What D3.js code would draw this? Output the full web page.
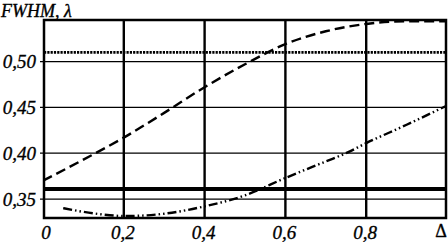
<!DOCTYPE html>
<html><head><meta charset="utf-8">
<script src="https://cdn.jsdelivr.net/npm/d3@7"></script>
<style>body{margin:0;background:#fff}svg{display:block}text{font-family:"Liberation Serif","DejaVu Serif",serif;font-style:italic;fill:#000;stroke:#000;stroke-width:0.35px}</style>
</head><body><svg id="c" width="448" height="242"></svg>
<script>
const xTicks = [0, 0.2, 0.4, 0.6, 0.8];
const xTickLabels = ["0", "0,2", "0,4", "0,6", "0,8"];
const yTicks = [0.35, 0.40, 0.45, 0.50];
const yTickLabels = ["0,35", "0,40", "0,45", "0,50"];
const dashedX = [0, 0.1, 0.2, 0.3, 0.4, 0.5, 0.6, 0.7, 0.8, 0.9, 1.0];
const dashedY = [0.370, 0.393, 0.417, 0.444, 0.472, 0.497, 0.519, 0.533, 0.541, 0.544, 0.544];
const dashDotX = [0.05, 0.1, 0.15, 0.2, 0.25, 0.3, 0.4, 0.5, 0.6, 0.7, 0.75, 0.8, 0.9, 1.0];
const dashDotY = [0.340, 0.336, 0.333, 0.3315, 0.332, 0.334, 0.342, 0.354, 0.373, 0.391, 0.400, 0.411, 0.431, 0.452];
const dottedLevel = 0.510;
const solidLevel = 0.361;
const yTitle = "FWHM, λ";
const xTitle = "Δ";

const svg = d3.select("#c");
const L = 44, R = 446, T = 20, B = 218;
const x = d3.scaleLinear().domain([0, 1]).range([43, 447]);
const y = d3.scaleLinear().domain([0.3293, 0.5453]).range([B, T]);

svg.append("defs").append("clipPath").attr("id", "clip")
  .append("rect").attr("x", L).attr("y", T).attr("width", R - L).attr("height", B - T);

svg.append("g").selectAll("line").data(yTicks).join("line")
  .attr("x1", L - 4).attr("x2", R).attr("y1", d => y(d)).attr("y2", d => y(d))
  .attr("stroke", "#000").attr("stroke-width", 1.2);
svg.append("g").selectAll("line").data(xTicks.filter(d => d > 0)).join("line")
  .attr("x1", d => x(d)).attr("x2", d => x(d)).attr("y1", T).attr("y2", B)
  .attr("stroke", "#000").attr("stroke-width", 2.4);

const g = svg.append("g").attr("clip-path", "url(#clip)");
g.append("line").attr("x1", L).attr("x2", R).attr("y1", y(dottedLevel)).attr("y2", y(dottedLevel))
  .attr("stroke", "#000").attr("stroke-width", 2.6).attr("stroke-dasharray", "2.2,1.1");
g.append("line").attr("x1", L).attr("x2", R).attr("y1", y(solidLevel)).attr("y2", y(solidLevel))
  .attr("stroke", "#000").attr("stroke-width", 4);

const line = d3.line().x(d => x(d[0])).y(d => y(d[1])).curve(d3.curveMonotoneX);
g.append("path").datum(dashedX.map((v, i) => [v, dashedY[i]]))
  .attr("d", line).attr("fill", "none").attr("stroke", "#000").attr("stroke-width", 2.4)
  .attr("stroke-dasharray", "10,5");
g.append("path").datum(dashDotX.map((v, i) => [v, dashDotY[i]]))
  .attr("d", line).attr("fill", "none").attr("stroke", "#000").attr("stroke-width", 2.4)
  .attr("stroke-dasharray", "9,3,1.5,3,1.5,3");

svg.append("rect").attr("x", L).attr("y", T).attr("width", R - L).attr("height", B - T)
  .attr("fill", "none").attr("stroke", "#000").attr("stroke-width", 2.5);

svg.append("g").selectAll("text").data(yTicks).join("text")
  .attr("x", 36).attr("y", d => y(d) + 6.5).attr("text-anchor", "end")
  .attr("font-size", 19).text((d, i) => yTickLabels[i]);
svg.append("g").selectAll("text").data(xTicks).join("text")
  .attr("x", d => x(d) + (d === 0 ? 3 : -1)).attr("y", 239).attr("text-anchor", "middle")
  .attr("font-size", 19).text((d, i) => xTickLabels[i]);
svg.append("text").attr("x", 441).attr("y", 237).attr("text-anchor", "middle")
  .attr("font-size", 18).style("font-style", "normal").text(xTitle);
svg.append("text").attr("x", 1).attr("y", 16.5).attr("font-size", 18).text(yTitle);
</script></body></html>
